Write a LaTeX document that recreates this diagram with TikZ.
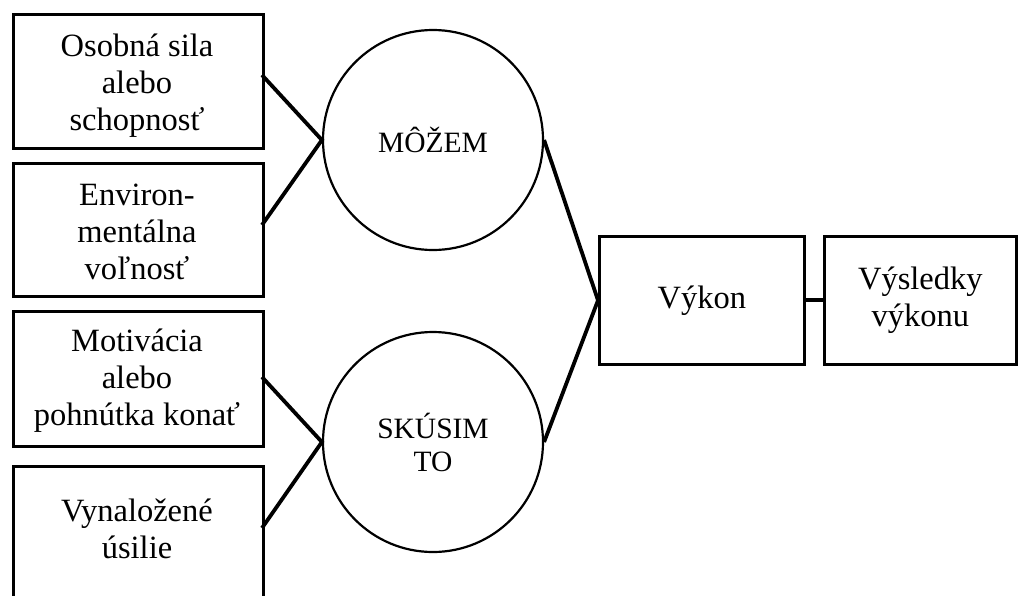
\documentclass[tikz,border=0pt]{standalone}
\usepackage{fontspec}
\setmainfont{Liberation Serif}
\begin{document}
\begin{tikzpicture}[x=1pt,y=-1pt,
  box/.style={draw,line width=2.7pt,inner sep=0pt,anchor=north west},
  lbl/.style={align=center,font=\fontsize{32.5}{37}\selectfont,inner sep=0pt},
  circ/.style={draw,circle,line width=2.2pt,minimum size=220pt,inner sep=0pt,align=center,font=\fontsize{29.5}{33}\selectfont},
  conn/.style={line width=3.8pt}]
\useasboundingbox (0,0) rectangle (1018,595);
\clip (0,0) rectangle (1018,595);
% left boxes
\node[box,minimum width=250pt,minimum height=134pt] (b1) at (12,13) {};
\node[box,minimum width=250pt,minimum height=133pt] (b2) at (12,162) {};
\node[box,minimum width=250pt,minimum height=135pt] (b3) at (12,310) {};
\node[box,minimum width=250pt,minimum height=170pt] (b4) at (12,465) {};
\node[lbl] (t1) at (137,86) {Osobná sila\\alebo\\schopnosť};
\node[lbl] (t2) at (137,232) {Environ-\\mentálna\\voľnosť};
\node[lbl] (t3) at (137,381) {Motivácia\\alebo\\pohnútka konať};
\node[lbl] (t4) at (137,529) {Vynaložené\\úsilie};
% circles
\node[circ] (c1) at (433,140) {MÔŽEM};
\node[circ] (c2) at (433,442) {SKÚSIM\\TO};
% right boxes
\node[box,minimum width=205pt,minimum height=128pt] (v) at (598,235) {};
\node[lbl] at (v.center) {Výkon};
\node[box,minimum width=192pt,minimum height=128pt] (r) at (823,235) {};
\node[lbl] at (r.center) {Výsledky\\výkonu};
% connectors
\coordinate (p1) at (262,75);
\coordinate (p2) at (262,225);
\coordinate (p3) at (262,377);
\coordinate (p4) at (262,528);
\draw[conn] (p1) -- (c1.west) -- (p2);
\draw[conn] (p3) -- (c2.west) -- (p4);
\draw[conn] (c1.east) -- (v.west) -- (c2.east);
\draw[conn] (v.east) -- (r.west);
\end{tikzpicture}
\end{document}
